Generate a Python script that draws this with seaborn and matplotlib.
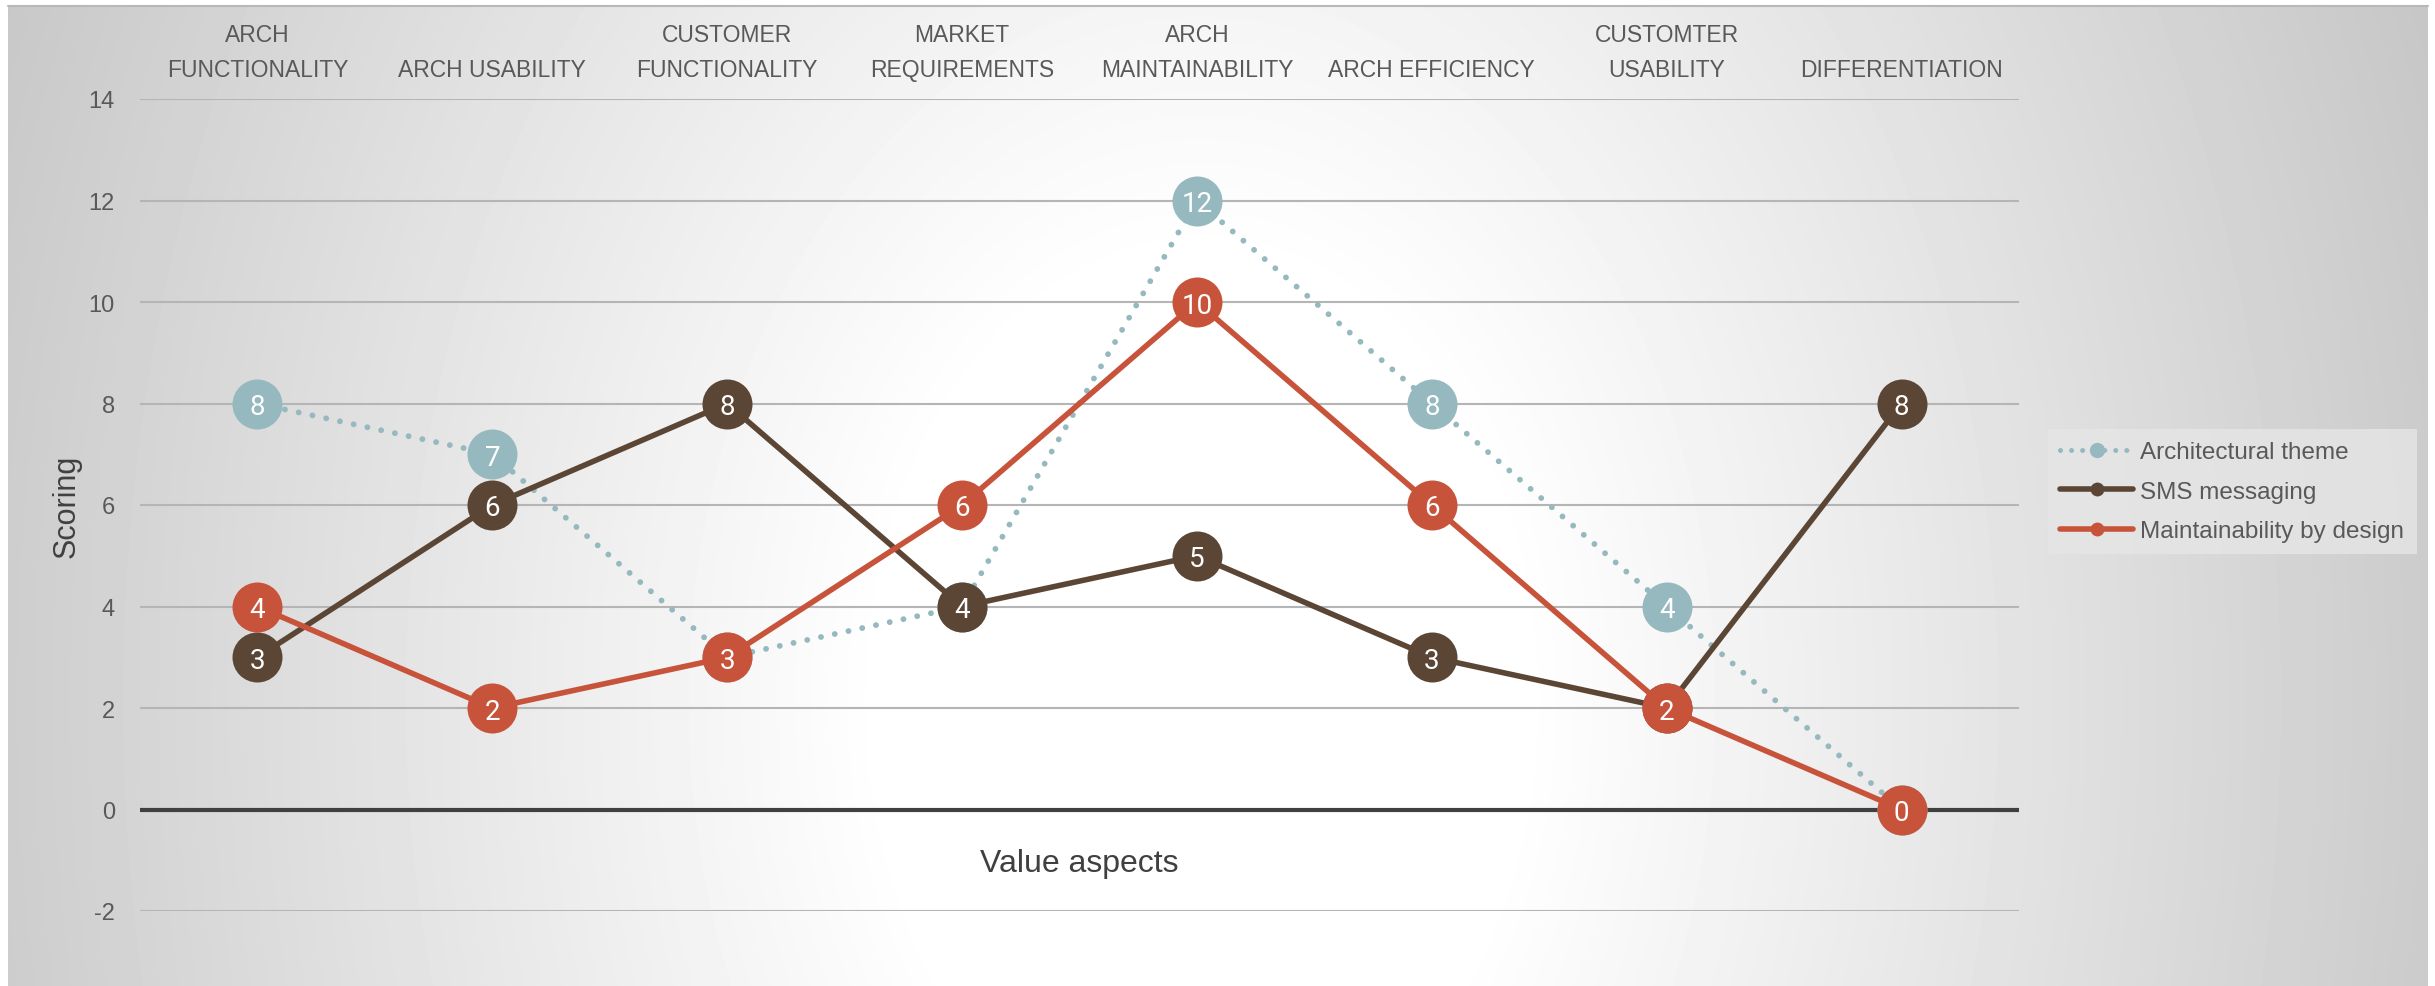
import numpy as np
import pandas as pd
import matplotlib
matplotlib.use("Agg")
import matplotlib.pyplot as plt
import seaborn as sns
from matplotlib.lines import Line2D

# data
categories = ["ARCH\nFUNCTIONALITY", "ARCH USABILITY", "CUSTOMER\nFUNCTIONALITY",
              "MARKET\nREQUIREMENTS", "ARCH\nMAINTAINABILITY", "ARCH EFFICIENCY",
              "CUSTOMTER\nUSABILITY", "DIFFERENTIATION"]
series_names = ["Architectural theme", "SMS messaging", "Maintainability by design"]
arch_theme = [8, 7, 3, 4, 12, 8, 4, 0]
sms_messaging = [3, 6, 8, 4, 5, 3, 2, 8]
maintainability = [4, 2, 3, 6, 10, 6, 2, 0]
y_ticks = [-2, 0, 2, 4, 6, 8, 10, 12, 14]

colors = ["#96b9bf", "#5b4636", "#c8533b"]
text_col = "#595959"

sns.set_style("white")
plt.rcParams["font.family"] = ["Liberation Sans", "DejaVu Sans"]
plt.rcParams["axes.unicode_minus"] = False

W, H = 2435, 987
fig = plt.figure(figsize=(W / 100, H / 100), dpi=100)
fig.patch.set_facecolor("white")

# radial grey background
bg = fig.add_axes([8 / W, 0, (2428 - 8) / W, 980 / H], zorder=-5)
xx, yy = np.meshgrid(np.arange(8, 2428, 4), np.arange(7, 987, 4))
d = np.sqrt(((xx - 1200) / 1450) ** 2 + ((yy - 700) / 2000) ** 2)
shade = 1 - 0.25 * np.clip((d - 0.22) / 0.78, 0, 1)
bg.imshow(shade, cmap="gray", vmin=0, vmax=1, aspect="auto", interpolation="bilinear")
bg.axis("off")
fig.add_artist(Line2D([8 / W, 2428 / W], [980 / H, 980 / H], color="#b8b8b8", lw=1.5))

ax = fig.add_axes([140 / W, 75 / H, (2019 - 140) / W, (912 - 100) / H])
ax.set_facecolor("none")

df = pd.DataFrame({
    "pos": list(range(len(categories))) * 3,
    "score": arch_theme + sms_messaging + maintainability,
    "series": np.repeat(series_names, len(categories)),
})

for i, name in enumerate(series_names):
    sub = df[df["series"] == name]
    sns.lineplot(data=sub, x="pos", y="score", ax=ax, color=colors[i], lw=4,
                 marker="o", markersize=36, mec=colors[i], mew=0,
                 zorder=3 + 2 * i, clip_on=False, legend=False)
    line = ax.lines[-1]
    if i == 0:
        line.set_linewidth(4.2)
        line.set_linestyle((0, (0.01, 2.4)))
        line.set_dash_capstyle("round")
    for x, y in zip(sub["pos"], sub["score"]):
        ax.text(x, y, str(y), ha="center", va="center_baseline", color="white",
                fontsize=20, family="Roboto", zorder=4 + 2 * i)

ax.set_xlim(-0.5, len(categories) - 0.5)
ax.set_ylim(-2, 14)
ax.set_yticks(y_ticks)
ax.set_xticks(range(len(categories)))
ax.set_xticklabels(categories, linespacing=1.65)
ax.xaxis.tick_top()
ax.tick_params(axis="x", length=0, pad=13, labelsize=16.5, labelcolor=text_col)
ax.tick_params(axis="y", length=0, pad=18, labelsize=17, labelcolor=text_col)
ax.grid(axis="y", color="#b5b5b5", lw=1.5)
ax.grid(axis="x", visible=False)
ax.axhline(0, color="#404040", lw=3, zorder=2)
for s in ax.spines.values():
    s.set_visible(False)

ax.set_xlabel("Value aspects", fontsize=23, color="#404040")
ax.xaxis.set_label_position("bottom")
ax.xaxis.set_label_coords(0.5, 0.078)
ax.set_ylabel("Scoring", fontsize=22, color="#404040")
ax.yaxis.set_label_coords(-0.031, 0.5)

handles = [
    Line2D([], [], color=colors[0], lw=3.6, ls=(0, (0.01, 2.2)), dash_capstyle="round",
           marker="o", ms=11, mew=0),
    Line2D([], [], color=colors[1], lw=4, marker="o", ms=10, mew=0),
    Line2D([], [], color=colors[2], lw=4, marker="o", ms=10, mew=0),
]
leg = fig.legend(handles, series_names, loc="upper left", bbox_to_anchor=(2048 / W, 1 - 430 / H),
                 borderaxespad=0, frameon=True, fontsize=17.5, handlelength=3.0,
                 handletextpad=0.3, labelspacing=0.72, borderpad=0.5)
leg.get_frame().set_facecolor("#e6e6e6")
leg.get_frame().set_alpha(0.8)
leg.get_frame().set_edgecolor("none")
leg.get_frame().set_boxstyle("square", pad=0)
for t in leg.get_texts():
    t.set_color(text_col)

fig.savefig("out.png", dpi=100)
